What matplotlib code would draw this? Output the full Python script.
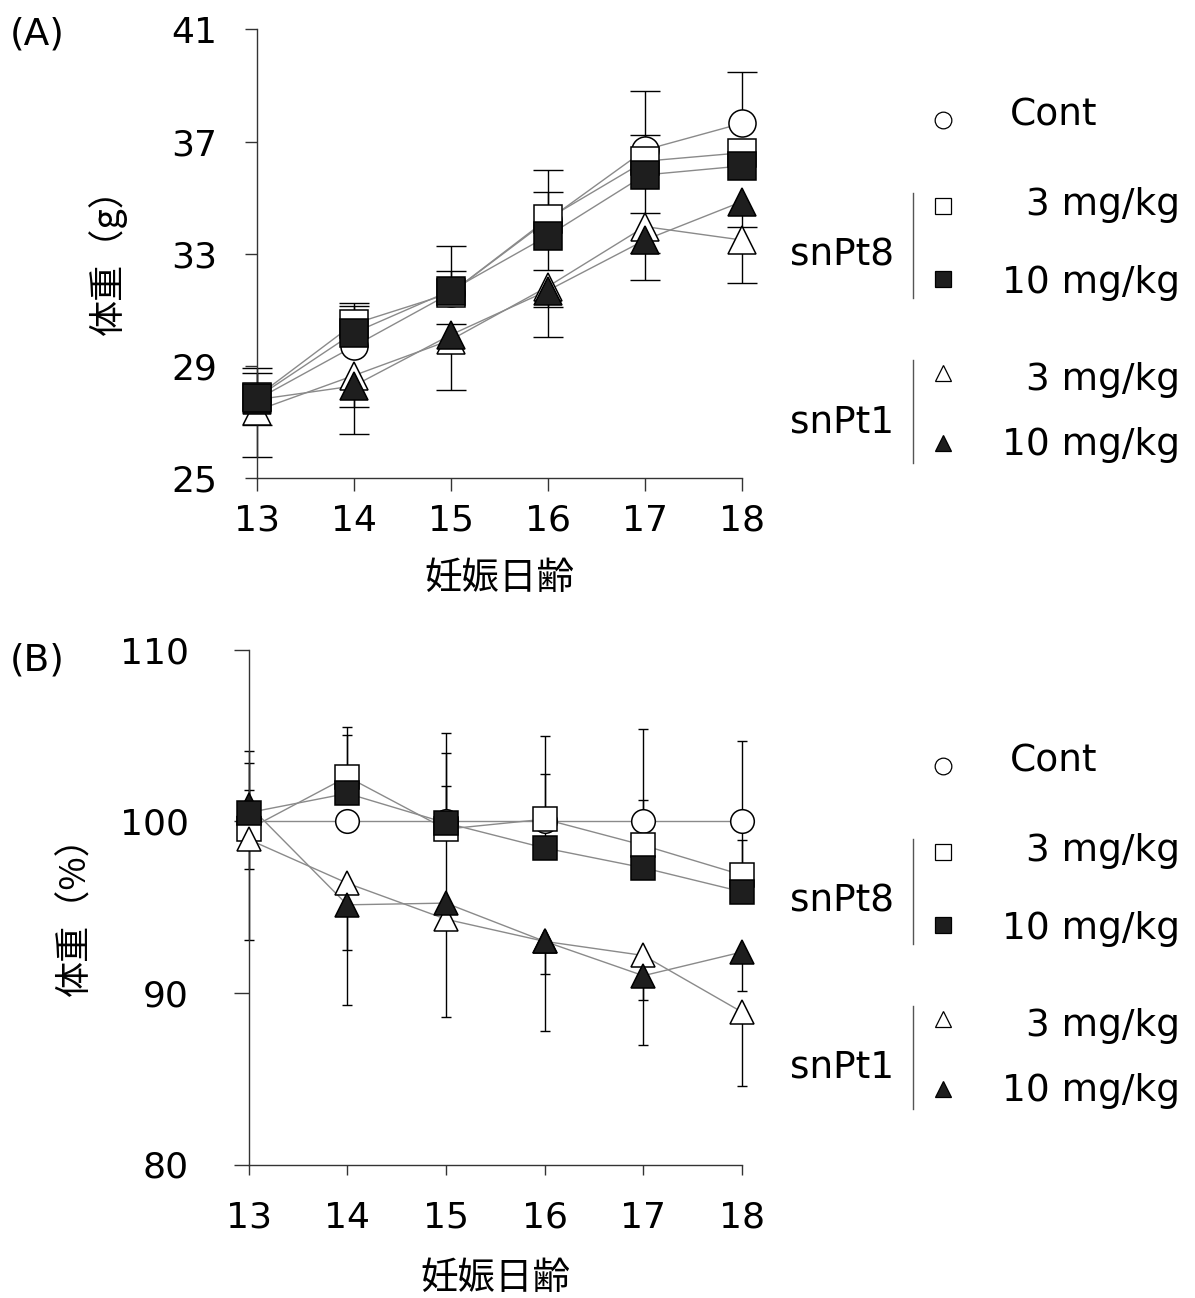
import matplotlib
matplotlib.use('Agg')
import matplotlib.pyplot as plt
from matplotlib.lines import Line2D
import numpy as np

plt.rcParams['font.family'] = ['DejaVu Sans', 'Noto Sans CJK JP']

# ---------------- data ----------------
days = [13, 14, 15, 16, 17, 18]
legend_names = ['Cont', '3 mg/kg', '10 mg/kg', '3 mg/kg', '10 mg/kg']
group_names = ['snPt8', 'snPt1']

# Panel A: body weight (g)
a_cont = [27.8, 29.7, 31.6, 34.2, 36.7, 37.65]
a_cont_lo = [0, 0, 0, 0, 0, 0]
a_cont_hi = [1.14, 1.45, 1.69, 1.8, 2.1, 1.82]
a_sq3 = [27.9, 30.5, 31.6, 34.25, 36.3, 36.6]
a_sq3_lo = [0, 0, 0, 0, 0, 0]
a_sq3_hi = [0.84, 0.76, 0.8, 0.94, 0.93, 0]
a_sq10 = [27.87, 30.18, 31.69, 33.64, 35.81, 36.13]
a_sq10_lo = [0, 0, 0, 1.22, 1.37, 0]
a_sq10_hi = [0, 0, 0, 0, 0, 0]
a_tri3 = [27.41, 28.66, 29.93, 31.83, 33.97, 33.49]
a_tri3_lo = [0.51, 2.08, 1.78, 0.71, 0.95, 1.54]
a_tri3_hi = [0, 0, 0, 0, 0, 0]
a_tri10 = [27.8, 28.29, 30.11, 31.69, 33.49, 34.86]
a_tri10_lo = [2.03, 0.76, 0, 1.64, 1.42, 0.89]
a_tri10_hi = [0, 0, 0.39, 0, 0, 0]

# Panel B: relative body weight (%)
b_cont = [100, 100, 100, 100, 100, 100]
b_cont_lo = [0, 0, 0, 0, 0, 0]
b_cont_hi = [4.1, 0, 0, 0, 0, 0]
b_sq3 = [99.54, 102.59, 99.54, 100.12, 98.6, 96.87]
b_sq3_lo = [0, 0, 0, 0, 0, 0]
b_sq3_hi = [3.86, 2.91, 4.41, 4.83, 6.75, 7.78]
b_sq10 = [100.5, 101.62, 99.9, 98.44, 97.29, 95.89]
b_sq10_lo = [3.3, 0, 0, 0, 0, 0]
b_sq10_hi = [1.3, 3.43, 5.25, 4.31, 3.96, 3.0]
b_tri3 = [98.94, 96.39, 94.29, 93.0, 92.18, 88.88]
b_tri3_lo = [5.84, 7.09, 5.69, 5.25, 5.23, 4.28]
b_tri3_hi = [0, 0, 0, 0, 0, 0]
b_tri10 = [100.94, 95.13, 95.23, 93.0, 91.0, 92.38]
b_tri10_lo = [0, 2.63, 0, 1.9, 1.4, 2.28]
b_tri10_hi = [0, 0, 6.82, 0, 0, 0]

a_yticks = [25, 29, 33, 37, 41]
b_yticks = [80, 90, 100, 110]

# ---------------- styles ----------------
BLACK = '#1e1e1e'
styles = [  # marker, facecolor
    ('o', 'white'),
    ('s', 'white'),
    ('s', BLACK),
    ('^', 'white'),
    ('^', BLACK),
]
draw_order = [0, 1, 3, 4, 2]

W, H = 1195, 1298
fig = plt.figure(figsize=(W / 100, H / 100), dpi=100)


def fx(px):
    return px / W


def fy(py):
    return 1 - py / H


def make_axes(left, right, top, bottom):
    return fig.add_axes([fx(left), fy(bottom), fx(right) - fx(left), fy(top) - fy(bottom)])


def draw_panel(ax, vals, los, his, ms, capw):
    x = np.array(days, dtype=float)
    for v, lo, hi in zip(vals, los, his):
        v = np.array(v, float); lo = np.array(lo, float); hi = np.array(hi, float)
        m = (lo > 0) | (hi > 0)
        ax.vlines(x[m], (v - lo)[m], (v + hi)[m], color='black', lw=1.0, zorder=2, clip_on=False)
        mh = hi > 0
        ax.plot(x[mh], (v + hi)[mh], ls='none', marker='_', ms=capw, mew=1.0,
                color='black', zorder=2, clip_on=False)
        ml = lo > 0
        ax.plot(x[ml], (v - lo)[ml], ls='none', marker='_', ms=capw, mew=1.0,
                color='black', zorder=2, clip_on=False)
    for v in vals:
        ax.plot(x, v, color='#8a8a8a', lw=1.0, zorder=3, clip_on=False)
    for k, i in enumerate(draw_order):
        mk, fc = styles[i]
        ax.plot(x, vals[i], ls='none', marker=mk, ms=ms, mfc=fc, mec='black',
                mew=1.1, zorder=4 + k, clip_on=False)


def style_axes(ax, ylim, yticks, ylen, ypad, xlen, xpad):
    ax.set_xlim(13, 18)
    ax.set_ylim(*ylim)
    ax.set_xticks(days)
    ax.set_yticks(yticks)
    for s in ['top', 'right']:
        ax.spines[s].set_visible(False)
    for s in ['left', 'bottom']:
        ax.spines[s].set_linewidth(1.0)
        ax.spines[s].set_color('#333333')
    ax.tick_params(axis='y', length=ylen, pad=ypad, labelsize=26, width=1.0, color='#333333')
    ax.tick_params(axis='x', length=xlen, pad=xpad, labelsize=26, width=1.0, color='#333333')
    ax.patch.set_alpha(0)


# Panel A
axA = make_axes(256.5, 742, 29.3, 478.3)
draw_panel(axA, [a_cont, a_sq3, a_sq10, a_tri3, a_tri10],
           [a_cont_lo, a_sq3_lo, a_sq10_lo, a_tri3_lo, a_tri10_lo],
           [a_cont_hi, a_sq3_hi, a_sq10_hi, a_tri3_hi, a_tri10_hi],
           ms=19.5, capw=21.5)
style_axes(axA, (25, 41), a_yticks, 8.6, 19.5, 9.4, 9)

# Panel B
axB = make_axes(248.6, 742, 649.6, 1164.5)
draw_panel(axB, [b_cont, b_sq3, b_sq10, b_tri3, b_tri10],
           [b_cont_lo, b_sq3_lo, b_sq10_lo, b_tri3_lo, b_tri10_lo],
           [b_cont_hi, b_sq3_hi, b_sq10_hi, b_tri3_hi, b_tri10_hi],
           ms=17, capw=6.5)
style_axes(axB, (80, 110), b_yticks, 11, 32, 7, 19)

cjk = ['Noto Sans CJK JP', 'DejaVu Sans']

# panel letters and axis titles
fig.text(fx(10), fy(35), '(A)', fontsize=27, ha='left', va='center')
fig.text(fx(10), fy(660), '(B)', fontsize=27, ha='left', va='center')
fig.text(fx(107), fy(253), '体重（g）', family=cjk, fontsize=26, rotation=90, ha='center', va='center')
fig.text(fx(75), fy(907), '体重（%）', family=cjk, fontsize=26, rotation=90, ha='center', va='center')
fig.text(fx(499), fy(578), '妊娠日齢', family=cjk, fontsize=27, ha='center', va='center')
fig.text(fx(495), fy(1278), '妊娠日齢', family=cjk, fontsize=27, ha='center', va='center')


# legends
def legend(dy):
    mk_x = fx(943)
    mk_y = [120, 206, 279, 373, 443]
    base = [125, 215, 293, 390, 455]
    for i in range(5):
        mk, fc = styles[i]
        fig.add_artist(Line2D([mk_x], [fy(mk_y[i] + dy)], transform=fig.transFigure,
                              ls='none', marker=mk, ms=12, mfc=fc, mec='black', mew=0.9))
    fig.text(fx(1010), fy(base[0] + dy), legend_names[0], fontsize=27, ha='left', va='baseline')
    for i in range(1, 5):
        fig.text(fx(1180), fy(base[i] + dy), legend_names[i], fontsize=27, ha='right', va='baseline')
    fig.text(fx(894), fy(265 + dy), group_names[0], fontsize=27, ha='right', va='baseline')
    fig.text(fx(894), fy(432 + dy), group_names[1], fontsize=27, ha='right', va='baseline')
    for (t, b) in [(193, 298), (360, 463)]:
        fig.add_artist(Line2D([fx(913), fx(913)], [fy(t + dy), fy(b + dy)],
                              transform=fig.transFigure, color='#555555', lw=1.0))


legend(0)
legend(646)

fig.savefig('out.png', dpi=100)
